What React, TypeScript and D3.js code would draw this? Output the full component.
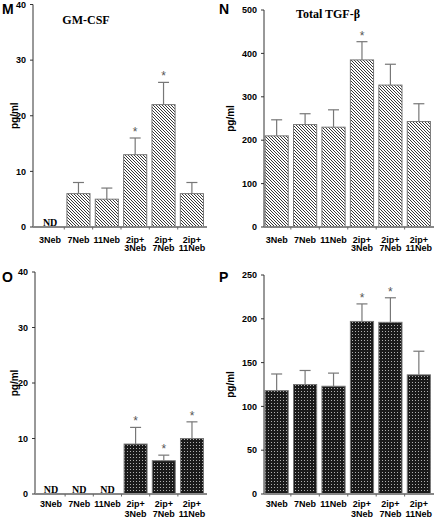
import React from "react";
import * as d3 from "d3";

const categories = ["3Neb", "7Neb", "11Neb", "2ip+|3Neb", "2ip+|7Neb", "2ip+|11Neb"];

const gmcsfMean = [0, 6, 5, 13, 22, 6];
const gmcsfSem = [0, 2, 2, 3, 4, 2];
const gmcsfND = [true, false, false, false, false, false];
const gmcsfSig = [false, false, false, true, true, false];

const tgfMean = [210, 236, 230, 385, 327, 243];
const tgfSem = [37, 25, 40, 42, 48, 41];
const tgfND = [false, false, false, false, false, false];
const tgfSig = [false, false, false, true, false, false];

const oMean = [0, 0, 0, 9, 6, 10];
const oSem = [0, 0, 0, 3, 1, 3];
const oND = [true, true, true, false, false, false];
const oSig = [false, false, false, true, true, true];

const pMean = [118, 125, 123, 197, 196, 136];
const pSem = [19, 16, 15, 20, 28, 27];
const pND = [false, false, false, false, false, false];
const pSig = [false, false, false, true, true, false];

const gmTicks = [0, 10, 20, 30, 40];
const tgfTicks = [0, 100, 200, 300, 400, 500];
const pTicks = [0, 50, 100, 150, 200, 250];

const SANS = "'Liberation Sans', Arial, sans-serif";
const SERIF = "'Liberation Serif', 'Times New Roman', serif";

type PanelProps = {
  letter: string;
  title?: string;
  titleX?: number;
  titleY?: number;
  axisX: number;
  yTop: number;
  yBottom: number;
  bandRange: [number, number];
  domainMax: number;
  ticks: number[];
  mean: number[];
  sem: number[];
  nd: boolean[];
  sig: boolean[];
  fill: string;
  letterY: number;
  letterX: number;
  ylabelX: number;
  labelOffset: number;
  labelSpacing: number;
};

function Panel(p: PanelProps) {
  const y = d3.scaleLinear().domain([0, p.domainMax]).range([p.yBottom, p.yTop]);
  const x = d3.scaleBand<string>().domain(categories).range(p.bandRange).paddingInner(0.185).paddingOuter(0.09);
  const bw = x.bandwidth();
  const axisEnd = p.bandRange[1] + 1;
  const ylabelY = (p.yTop + p.yBottom) / 2;
  return (
    <g>
      <text x={p.letterX} y={p.letterY} fontFamily={SANS} fontWeight="bold" fontSize={14} fill="#000">
        {p.letter}
      </text>
      {p.title && (
        <text x={p.titleX} y={p.titleY} fontFamily={SERIF} fontWeight="bold" fontSize={12} fill="#000" textAnchor="middle">
          {p.title}
        </text>
      )}
      <text
        transform={`translate(${p.ylabelX},${ylabelY}) rotate(-90)`}
        textAnchor="middle"
        fontFamily={SANS}
        fontWeight="bold"
        fontSize={10}
        fill="#000"
      >
        pg/ml
      </text>
      {/* y axis */}
      <line x1={p.axisX} x2={p.axisX} y1={p.yTop} y2={p.yBottom} stroke="#333" strokeWidth={1} />
      {p.ticks.map((t) => (
        <g key={t}>
          <line x1={p.axisX - 3} x2={p.axisX} y1={y(t)} y2={y(t)} stroke="#333" strokeWidth={1} />
          <text
            x={p.axisX - 7}
            y={y(t)}
            dy="0.35em"
            textAnchor="end"
            fontFamily={SANS}
            fontWeight="bold"
            fontSize={9}
            fill="#000"
          >
            {t}
          </text>
        </g>
      ))}
      {/* bars */}
      {categories.map((c, i) => {
        if (p.nd[i]) {
          return (
            <text
              key={c}
              x={(x(c) as number) + bw / 2}
              y={p.yBottom - 1}
              textAnchor="middle"
              fontFamily={SERIF}
              fontWeight="bold"
              fontSize={10}
              fill="#000"
            >
              ND
            </text>
          );
        }
        const x0 = x(c) as number;
        const top = y(p.mean[i]);
        const errTop = y(p.mean[i] + p.sem[i]);
        const cx = x0 + bw / 2;
        return (
          <g key={c}>
            <rect x={x0} y={top} width={bw} height={p.yBottom - top} fill={p.fill} stroke="#777" strokeWidth={1} />
            <line x1={cx} x2={cx} y1={top} y2={errTop} stroke="#777" strokeWidth={1.2} />
            <line x1={cx - 5.5} x2={cx + 5.5} y1={errTop} y2={errTop} stroke="#777" strokeWidth={1.2} />
            {p.sig[i] && (
              <text x={cx} y={errTop - 2} textAnchor="middle" fontFamily={SANS} fontSize={12} fill="#555">
                *
              </text>
            )}
          </g>
        );
      })}
      {/* x axis */}
      <line x1={p.axisX} x2={axisEnd} y1={p.yBottom} y2={p.yBottom} stroke="#888" strokeWidth={2} />
      {categories.slice(1).map((c) => {
        const bx = (x(c) as number) - (x.step() - bw) / 2;
        return <line key={c} x1={bx} x2={bx} y1={p.yBottom} y2={p.yBottom + 2.5} stroke="#666" strokeWidth={1} />;
      })}
      {categories.map((c) => {
        const lines = c.split("|");
        const cx = (x(c) as number) + bw / 2;
        return (
          <text key={c} textAnchor="middle" fontFamily={SANS} fontWeight="bold" fontSize={9} fill="#000">
            {lines.map((l, j) => (
              <tspan key={j} x={cx} y={p.yBottom + p.labelOffset + j * p.labelSpacing}>
                {l}
              </tspan>
            ))}
          </text>
        );
      })}
    </g>
  );
}

export default function App() {
  return (
    <svg width={435} height={519} style={{ display: "block", position: "absolute", left: 0, top: 0 }}>
      <defs>
        <pattern id="hatch" patternUnits="userSpaceOnUse" width={3} height={3}>
          <rect width={3} height={3} fill="#fff" />
          <path d="M-1,-1 L4,4 M-1,2 L1,4 M2,-1 L4,1" stroke="#222" strokeWidth={0.9} />
        </pattern>
        <pattern id="dots" patternUnits="userSpaceOnUse" width={3} height={3}>
          <rect width={3} height={3} fill="#1a1a1a" />
          <rect x={1} y={1} width={1} height={1} fill="#b0b0b0" />
        </pattern>
      </defs>
      <rect width={435} height={519} fill="#fff" />
      <Panel
        letter="M"
        title="GM-CSF"
        titleX={86}
        titleY={24}
        axisX={33}
        yTop={4.5}
        yBottom={227}
        bandRange={[36, 206]}
        domainMax={40}
        ticks={gmTicks}
        mean={gmcsfMean}
        sem={gmcsfSem}
        nd={gmcsfND}
        sig={gmcsfSig}
        fill="url(#hatch)"
        letterX={2}
        letterY={14}
        ylabelX={18}
        labelOffset={15.5}
        labelSpacing={8.8}
      />
      <Panel
        letter="N"
        title="Total TGF-β"
        titleX={328}
        titleY={18}
        axisX={264}
        yTop={10}
        yBottom={227}
        bandRange={[262.5, 433]}
        domainMax={500}
        ticks={tgfTicks}
        mean={tgfMean}
        sem={tgfSem}
        nd={tgfND}
        sig={tgfSig}
        fill="url(#hatch)"
        letterX={219}
        letterY={14}
        ylabelX={234}
        labelOffset={15.5}
        labelSpacing={8.8}
      />
      <Panel
        letter="O"
        axisX={35}
        yTop={272}
        yBottom={494}
        bandRange={[37, 206]}
        domainMax={40}
        ticks={gmTicks}
        mean={oMean}
        sem={oSem}
        nd={oND}
        sig={oSig}
        fill="url(#dots)"
        letterX={2}
        letterY={282}
        ylabelX={18}
        labelOffset={13}
        labelSpacing={9.6}
      />
      <Panel
        letter="P"
        axisX={264}
        yTop={275}
        yBottom={494}
        bandRange={[262.5, 433]}
        domainMax={250}
        ticks={pTicks}
        mean={pMean}
        sem={pSem}
        nd={pND}
        sig={pSig}
        fill="url(#dots)"
        letterX={219}
        letterY={282}
        ylabelX={234}
        labelOffset={13}
        labelSpacing={9.6}
      />
    </svg>
  );
}
